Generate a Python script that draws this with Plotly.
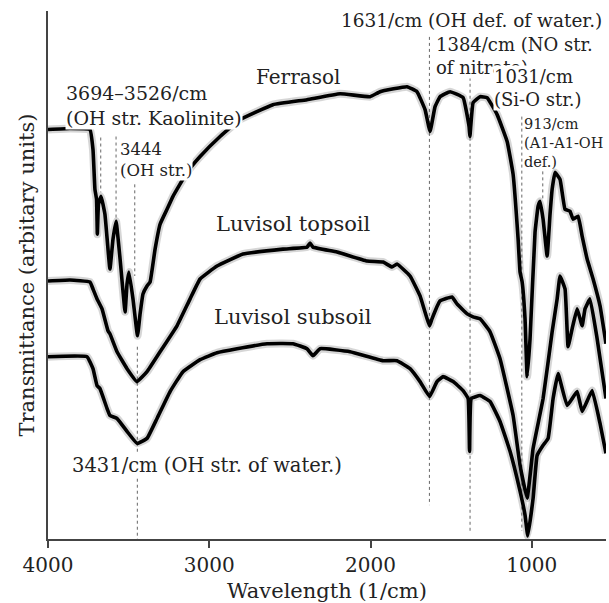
import plotly.graph_objects as go

# ---------------- data (wavenumber in 1/cm, transmittance in arbitrary units) -------------
ferrasol_wn = [4000, 3864, 3740, 3721, 3709, 3699, 3694, 3687, 3671, 3647, 3616, 3597, 3578,
               3553, 3522, 3510, 3498, 3473, 3445, 3429, 3411, 3386, 3367, 3336, 3305, 3262,
               3225, 3138, 3057, 2933, 2809, 2605, 2394, 2189, 2003, 1941, 1774, 1712, 1662,
               1631, 1600, 1569, 1507, 1426, 1389, 1384, 1364, 1321, 1277, 1215, 1153, 1116,
               1085, 1073, 1060, 1042, 1029, 1011, 980, 961, 949, 930, 905, 887, 874, 856,
               825, 794, 763, 744, 713, 688, 657, 620, 577, 540]
ferrasol_t = [411, 412, 411, 391, 351, 341, 306, 336, 344, 326, 271, 301, 319,
              281, 228, 256, 268, 241, 204, 226, 246, 254, 258, 291, 316, 331,
              344, 368, 384, 404, 421, 436, 441, 447, 444, 449, 454, 449, 431,
              409, 434, 444, 449, 443, 414, 404, 438, 444, 443, 426, 399, 366,
              301, 268, 258, 221, 163, 201, 308, 334, 339, 321, 284, 326, 351, 368,
              361, 331, 329, 321, 324, 304, 281, 261, 234, 196]

topsoil_wn = [4000, 3864, 3740, 3721, 3696, 3665, 3628, 3616, 3572, 3510, 3448, 3386, 3305,
              3200, 3119, 3057, 2952, 2791, 2543, 2394, 2375, 2357, 2208, 2022, 1922, 1867,
              1836, 1755, 1693, 1634, 1619, 1569, 1495, 1464, 1401, 1364, 1321, 1259, 1197,
              1116, 1073, 1029, 992, 930, 874, 843, 825, 794, 775, 750, 719, 688, 670, 639,
              595, 540]
topsoil_t = [259, 260, 258, 251, 241, 231, 209, 206, 188, 171, 158, 168, 188,
             214, 241, 261, 274, 286, 291, 293, 297, 293, 288, 279, 278, 273,
             276, 264, 244, 214, 221, 239, 243, 236, 226, 223, 221, 208, 181,
             124, 74, 41, 91, 141, 208, 241, 264, 251, 193, 211, 231, 214, 231, 241,
             201, 141]

subsoil_wn = [4000, 3758, 3721, 3696, 3678, 3634, 3616, 3572, 3510, 3448, 3386, 3324, 3243,
              3163, 3057, 2952, 2828, 2642, 2481, 2394, 2357, 2313, 2127, 1922, 1836, 1755,
              1693, 1634, 1588, 1550, 1488, 1426, 1395, 1386, 1375, 1321, 1259, 1197, 1135,
              1073, 1042, 1025, 992, 967, 930, 899, 868, 837, 781, 719, 688, 626, 577, 540]
subsoil_t = [183, 183, 171, 154, 151, 131, 124, 121, 108, 96, 101, 121, 148,
             168, 180, 187, 191, 196, 196, 191, 184, 191, 188, 179, 179, 171,
             158, 143, 158, 163, 158, 149, 141, 88, 141, 144, 138, 118, 88,
             48, 24, 3, 41, 84, 94, 101, 141, 166, 134, 148, 128, 149, 116, 86]

# assignment guide lines (wavenumber, top and bottom in transmittance units)
band_wn = [3673, 3578, 3462, 3446, 1635, 1383, 1062, 932]
band_top = [403, 404, 356, 193, 504, 463, 424, 369]
band_bottom = [348, 321, 264, 0, 34, 8, 8, 339]

tick_vals = [4000, 3000, 2000, 1000]
tick_text = ["4000", "3000", "2000", "1000"]

series_names = ["Ferrasol", "Luvisol topsoil", "Luvisol subsoil"]

# ---------------- figure -------------
FONT = "DejaVu Serif"
fig = go.Figure()

series = [(ferrasol_wn, ferrasol_t), (topsoil_wn, topsoil_t), (subsoil_wn, subsoil_t)]

# soft shadow under the curves
for (wn, t), name in zip(series, series_names):
    fig.add_trace(go.Scatter(x=wn, y=t, mode="lines", hoverinfo="skip", showlegend=False,
                             line=dict(color="rgba(0,0,0,0.16)", width=8,
                                       shape="spline", smoothing=0.3)))

# dotted assignment lines
gx, gy = [], []
for b, t0, t1 in zip(band_wn, band_top, band_bottom):
    gx += [b, b, None]
    gy += [t0, t1, None]
fig.add_trace(go.Scatter(x=gx, y=gy, mode="lines", showlegend=False, hoverinfo="skip",
                         line=dict(color="#666666", width=1, dash="dot")))

for (wn, t), name in zip(series, series_names):
    fig.add_trace(go.Scatter(x=wn, y=t, mode="lines", name=name, showlegend=False,
                             line=dict(color="black", width=3.6,
                                       shape="spline", smoothing=0.3)))

# ---------------- annotations -------------
notes = [
    # text, x, y, size, anchor, white background
    ("Ferrasol", 2450, 464, 20, "center", False),
    ("Luvisol topsoil", 2478, 316, 21, "center", False),
    ("Luvisol subsoil", 2481, 223, 21, "center", False),
    ("3694–3526/cm<br>(OH str. Kaolinite)", 3895, 435, 19, "left", True),
    ("3444<br>(OH str.)", 3560, 380, 16.5, "left", True),
    ("3431/cm (OH str. of water.)", 3857, 74, 19.5, "left", True),
    ("1631/cm (OH def. of water.)", 2189, 520, 18.5, "left", True),
    ("1384/cm (NO str.<br>of nitrate)", 1600, 485, 18, "left", True),
    ("1031/cm<br>(Si-O str.)", 1240, 453, 18, "left", True),
    ("913/cm<br>(A1-A1-OH<br>def.)", 1054, 398, 14.5, "left", False),
]
for text, x, y, size, anchor, bg in notes:
    fig.add_annotation(x=x, y=y, xref="x", yref="y", text=text, showarrow=False,
                       xanchor=anchor, yanchor="middle", align="left",
                       font=dict(family=FONT, size=size, color="#222222"),
                       bgcolor="white" if bg else None, borderpad=0)

fig.update_layout(
    width=609, height=603,
    margin=dict(l=48, r=3, t=11, b=62),
    paper_bgcolor="white", plot_bgcolor="white",
    font=dict(family=FONT, size=20, color="#222222"),
    showlegend=False,
    xaxis=dict(range=[4000, 540], tickvals=tick_vals, ticktext=tick_text,
               showgrid=False, zeroline=False, showline=True, linecolor="#444444",
               linewidth=2, ticks="outside", ticklen=7, tickwidth=1.5, tickcolor="#444444",
               tickfont=dict(family=FONT, size=20, color="#222222"),
               title=dict(text="Wavelength (1/cm)", standoff=8,
                          font=dict(family=FONT, size=21, color="#222222"))),
    yaxis=dict(range=[0, 530], showticklabels=False, ticks="", showgrid=False,
               zeroline=False, showline=True, linecolor="#444444", linewidth=2,
               title=dict(text="Transmittance (arbitary units)", standoff=6,
                          font=dict(family=FONT, size=21, color="#222222"))),
)

fig.write_html("out.html")
